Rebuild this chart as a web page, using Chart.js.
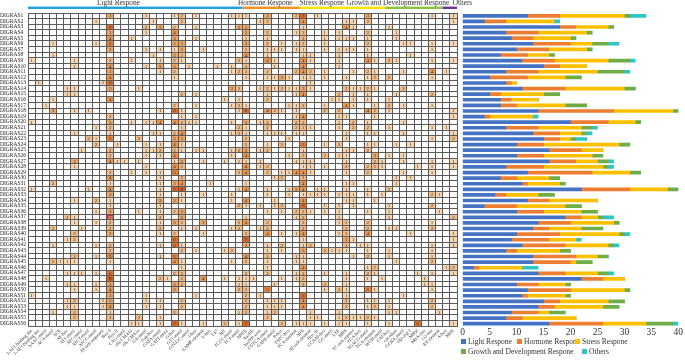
<!DOCTYPE html>
<html>
<head>
<meta charset="utf-8">
<script src="https://cdn.jsdelivr.net/npm/chart.js@4.4.1/dist/chart.umd.min.js"></script>
<style>
    body { margin: 0; background: #fff; }
    #page { position: relative; width: 685px; height: 360px; overflow: hidden; font-family: "Liberation Serif", "Times New Roman", serif; }
    #heat { position: absolute; left: 0; top: 0; }
    #bars { position: absolute; left: 455px; top: 0; }
    .legend-item { position: absolute; font-size: 7.5px; line-height: 8px; color: #333; white-space: nowrap; }
    .legend-item span { display: inline-block; width: 5px; height: 5px; margin-right: 2px; }
</style>
</head>
<body>
<div id="page">
    <canvas id="heat" width="475" height="360"></canvas>
    <canvas id="bars" width="230" height="360"></canvas>
    <div id="legend"></div>
</div>
<script>
/* --------------------------------- Data ---------------------------------*/

var geneNames = [];
for (let i = 1; i <= 56; i++) geneNames.push("DIGRAS" + i);

var groupNames = ["Light Respone", "Hormone Respone", "Stress Respone", "Growth and Development Respone", "Others"];
var groupSizes = [30, 8, 12, 8, 2];

var elementNames = [
    "3-AF1 binding site", "3-AF3 binding site", "AAAC-motif", "ACA-motif", "ACE", "AE-box", "AT1-motif",
    "ATC-motif", "ATCT-motif", "ATCC-motif", "AT-rich sequence", "Box 4", "Box II", "CAG-motif",
    "chs-CMA1a", "chs-CMA2a", "GA-motif", "Gap-box", "GATA-motif", "GATT-motif", "G-box", "GT1-motif",
    "GTGGC-motif", "I-box", "LAMP-element", "L-box", "LS7", "Sp1", "TCCC-motif", "TCT-motif",
    "ABRE", "AuxRE", "AuxRR-core", "CGTCA-motif", "GARE-motif", "P-box", "TATC-box", "TCA-element",
    "ARE", "AT-rich element", "Box III", "CCAAT-box", "GC-motif", "LTR", "MBS", "TC-rich repeats",
    "TGA-box", "TGACG-motif", "TGA-element", "WUN-motif",
    "CAT-box", "circadian", "GCN4_motif", "HD-Zip 1", "MBSI", "MSA-like", "O2-site", "RY-element",
    "A-box", "MRE"
];

// one string per gene: "column:count" for every non-empty cell
var cellRows = [
    "11:3 16:1 20:1 21:2 23:1 28:1 29:1 30:1 33:3 37:2 38:7 40:1 47:3 56:1 59:1",
    "9:1 17:1 21:2 32:1 33:2 38:4 44:1 45:1 47:2 59:1",
    "11:7 16:2 18:3 20:2 23:1 29:3 30:3 38:1 44:4 45:1 50:1",
    "11:3 16:1 20:4 30:3 33:2 37:1 38:2 41:1 43:1 47:2 51:1",
    "11:4 14:1 20:3 23:1 30:1 33:1 38:2 41:1 43:1 44:1 45:1 47:1 51:1",
    "3:1 9:1 11:5 20:3 21:3 30:3 33:2 35:1 37:1 38:2 41:1 47:2 52:1 53:1 56:1 59:1",
    "11:3 16:1 18:1 20:1 21:3 24:1 30:2 33:1 34:1 35:1 37:1 38:1 41:1 43:1 44:1 45:1 47:1 56:1",
    "3:1 17:1 20:3 21:2 30:4 33:1 38:1 39:1 43:1 47:1 53:1",
    "0:1 6:1 11:2 14:1 18:1 20:2 21:1 29:2 30:1 33:4 34:1 38:4 39:1 43:1 47:4 48:1 50:2 51:1 56:1 59:1",
    "6:1 11:4 16:1 18:3 20:3 22:1 26:1 28:1 30:2 34:1 38:4 43:1",
    "11:3 18:1 20:2 28:1 29:2 30:2 33:2 37:2 38:4 39:2 41:1 45:1 47:2 48:1 52:1 56:4 58:1",
    "11:4 20:1 30:1 33:1 34:1 35:3 36:1 38:1 39:1 41:1 44:1 47:1 48:2 50:2 56:1",
    "1:1 10:1 11:6 39:1",
    "5:1 6:1 11:3 15:1 28:3 29:2 32:1 33:2 34:1 35:2 36:1 37:1 38:3 39:1 44:2 45:1 46:1 47:2 48:1 52:2",
    "5:1 6:1 21:2 23:1 33:1 37:1 38:4 43:2 45:1 47:1 51:1 56:2",
    "3:1 11:4 27:1 29:1 33:2 42:1 43:1 45:1 47:1 50:1",
    "2:1 20:2 23:1 28:1 29:2 30:1 36:1 37:1 38:2 41:1 44:4 45:1 48:1 50:2 52:1 56:1",
    "3:3 6:1 8:1 18:1 20:6 21:1 29:1 30:6 33:4 34:2 35:1 37:1 41:2 43:2 47:4 48:2 50:1 59:1",
    "11:2 21:1 23:1 37:1 38:4 43:1 44:1 48:1 59:1",
    "0:1 11:3 14:1 16:1 17:1 18:4 20:4 21:2 22:1 23:1 28:1 30:3 32:1 33:2 37:2 38:2 43:1 45:2 47:1 52:1",
    "9:1 11:2 21:1 29:2 30:1 33:2 37:2 38:2 39:1 43:1 45:2 47:2 50:1 56:1 58:1",
    "6:1 11:1 17:1 18:1 20:2 21:4 28:1 29:2 30:1 33:1 34:1 35:1 37:1 38:1 44:1 47:1 48:1 52:1 59:1",
    "8:2 9:1 11:5 15:2 20:3 21:3 30:2 36:1 44:1 56:1 59:2",
    "9:2 12:1 16:1 18:1 20:4 21:1 30:2 33:1 35:2 38:5 41:1 43:2 47:1 48:1 51:1 53:1",
    "7:1 11:2 16:1 17:1 18:2 20:2 21:1 23:1 24:1 28:1 29:2 30:3 32:1 33:2 38:1 44:1 45:1 47:2",
    "11:2 16:1 18:1 20:4 28:1 30:4 36:1 38:2 41:2 43:1 44:1 48:3 50:1 52:1",
    "6:3 11:4 12:1 13:1 15:1 20:1 21:3 24:1 27:1 29:1 30:1 32:1 37:1 38:1 39:1 44:1 48:2 49:1 52:1 56:1 59:1",
    "6:1 16:1 20:4 21:2 30:4 32:1 33:2 38:1 39:1 41:1 44:2 47:2 48:2 49:1 54:1 56:1 59:1",
    "11:2 14:1 16:1 18:1 20:5 29:2 30:4 33:2 35:1 36:1 37:4 38:4 39:1 44:1 47:2 52:1 56:1",
    "11:4 18:1 21:2 34:1 35:2 38:2 51:1 53:1",
    "3:2 11:1 18:1 20:3 21:4 25:1 30:1 38:4 44:1 45:1 51:1",
    "0:1 8:1 11:4 18:1 20:7 21:8 29:1 30:4 33:1 36:1 37:3 38:4 40:1 41:1 44:1 47:1 50:2",
    "11:3 18:1 21:1 24:1 28:1 33:1 36:1 38:1 39:1 40:1 41:1 43:1 44:1 45:1 47:1 49:1 56:2 57:1",
    "6:1 9:2 11:1 18:3 20:3 21:1 28:1 30:4 34:1 38:4 44:1 45:1 48:1",
    "11:1 18:1 29:2 30:1 32:1 34:1 35:2 38:6 41:1 43:1 45:1 50:1 56:2",
    "9:1 11:3 15:1 18:1 20:2 21:3 33:1 35:1 37:2 38:2 39:1 41:1 43:1 47:1 50:1 57:1",
    "5:2 6:1 11:12 18:2 21:3 30:1 37:1 38:2 43:1 50:1 59:2",
    "6:1 9:1 11:2 18:1 20:3 21:2 24:3 29:2 30:4 33:2 38:2 43:1 44:2 47:2 56:1",
    "3:2 7:1 11:2 18:2 21:1 23:1 28:1 29:2 32:1 33:2 38:2 44:2 47:2 50:1 51:1 56:2",
    "6:2 11:3 18:1 20:2 24:1 30:2 33:4 35:1 37:1 38:4 43:1 44:2 47:4 53:1 59:1",
    "5:1 6:2 20:6 30:7 38:1 44:3 45:1 59:1",
    "3:1 9:1 11:2 18:1 20:6 21:1 30:3 33:1 35:2 38:1 39:2 44:2 46:1 47:1 56:1 59:1",
    "11:2 21:2 23:1 27:1 28:2 33:1 35:1 38:3 41:2 42:1 43:1 44:1 47:1 50:1 56:1",
    "6:2 9:1 11:5 18:1 20:5 30:4 33:2 37:1 38:1 45:1 47:2 50:1 56:1",
    "3:2 4:1 5:1 6:1 11:1 20:4 21:1 28:1 30:2 33:1 37:1 38:1 51:1 56:2",
    "21:1 33:1 38:4 47:1 48:2 58:1 59:2",
    "5:1 6:1 7:1 9:1 11:6 20:2 21:2 30:2 33:2 37:1 38:2 41:1 44:1 47:2 48:1 54:1 56:1 59:1",
    "2:1 11:8 18:2 19:1 21:2 24:4 27:1 29:1 30:1 31:1 35:1 37:1 38:2 44:1 47:1 49:1 55:1",
    "5:1 6:1 9:1 11:3 20:3 21:2 29:1 30:1 34:1 38:2 41:2 44:1 55:1 56:1",
    "6:1 9:1 11:4 20:3 29:2 30:2 33:5 41:1 43:2 44:1 47:5 48:1 56:1",
    "0:1 11:3 16:1 23:1 30:2 32:1 38:6 44:1 52:1",
    "5:1 6:2 10:1 11:3 16:1 18:1 21:2 30:2 33:1 34:1 35:1 38:4 44:2 47:1 48:1 50:1 56:2",
    "5:1 6:1 10:1 11:4 16:1 18:1 21:2 30:2 33:1 34:1 35:1 38:4 44:2 47:1 48:2 50:1 56:2",
    "3:1 6:2 11:1 20:2 29:1 30:2 33:1 34:2 39:1 43:1 50:1 51:1 57:1",
    "6:2 11:2 15:2 18:1 33:2 39:1 40:1 43:1 44:2 45:1 46:1 47:2 48:1",
    "14:1 15:1 18:1 20:7 21:1 24:1 27:2 29:1 30:7 35:2 37:1 38:1 39:1 41:1 43:1 44:1 47:1 50:1 54:6 59:1"
];

var seriesNames = ["Light Respone", "Hormone Respone", "Stress Respone", "Growth and Development Respone", "Others"];
var lightCounts = [12, 4, 18, 8, 9, 13, 10, 7, 11, 15, 8, 5, 8, 11, 5, 7, 7, 14, 4, 20, 8, 13, 15, 10, 16, 10, 16, 8, 12, 7,
    11, 22, 6, 12, 4, 10, 19, 14, 13, 10, 9, 11, 8, 13, 13, 2, 14, 22, 10, 12, 11, 15, 14, 9, 8, 16];
var hormoneCounts = [6, 4, 3, 6, 4, 7, 6, 5, 6, 3, 6, 7, 1, 8, 2, 2, 3, 14, 1, 7, 6, 5, 3, 5, 6, 5, 5, 7, 12, 3,
    1, 9, 2, 4, 6, 5, 3, 6, 3, 8, 7, 8, 2, 8, 7, 1, 5, 4, 4, 8, 1, 3, 3, 5, 3, 10];
var stressCounts = [12, 9, 6, 9, 7, 4, 7, 4, 10, 5, 11, 7, 1, 11, 8, 5, 9, 11, 8, 5, 8, 4, 2, 14, 4, 9, 4, 11, 7, 6,
    6, 7, 6, 9, 9, 7, 3, 8, 6, 11, 5, 8, 8, 4, 1, 8, 6, 4, 5, 10, 7, 9, 9, 2, 10, 8];
var growthCounts = [1, 0, 1, 1, 1, 3, 1, 1, 4, 0, 5, 3, 0, 2, 3, 0, 4, 1, 0, 1, 2, 1, 1, 2, 0, 2, 2, 1, 2, 2,
    1, 2, 3, 0, 3, 3, 1, 1, 4, 1, 0, 1, 2, 2, 3, 0, 2, 0, 1, 1, 1, 3, 3, 3, 0, 5];
var otherCounts = [3, 1, 0, 0, 0, 2, 0, 0, 1, 0, 1, 0, 0, 0, 0, 0, 0, 1, 1, 0, 1, 1, 2, 0, 0, 0, 1, 1, 0, 0,
    0, 0, 0, 0, 0, 0, 2, 0, 0, 1, 1, 1, 0, 0, 0, 3, 1, 0, 0, 0, 0, 0, 0, 0, 0, 1];

/* -------------------------------- Styles --------------------------------*/

var serif = "'Liberation Serif', 'Times New Roman', serif";
var groupColors = ["#1DA1E0", "#F5921E", "#FFE300", "#8CC63E", "#71309B"];
var seriesColors = ["#4472C4", "#ED7D31", "#FFC000", "#70AD47", "#2EC6C6"];
var gridColor = "#5c5c5c";

function heatColor(v) {                                         // цвет клетки по количеству элементов
    var shades = ["#ffffff", "#f7d6b2", "#f2be8b", "#eea86a", "#ea9751", "#e6823a", "#e2722c", "#de6423", "#da571d"];
    if (v >= shades.length) return "#cf2f1f";
    return shades[v];
}

function parseCells() {
    var points = [];
    cellRows.forEach(function (row, r) {
        row.split(" ").forEach(function (pair) {
            var parts = pair.split(":");
            points.push({ x: Number(parts[0]), y: r, v: Number(parts[1]) });
        });
    });
    return points;
}

/* ------------------------------- Heat map -------------------------------*/

var heatCellsPlugin = {
    id: "heatCells",
    afterDatasetsDraw: function (chart) {
        var ctx = chart.ctx;
        var xs = chart.scales.x, ys = chart.scales.y;
        var w = xs.getPixelForValue(1) - xs.getPixelForValue(0);
        var h = ys.getPixelForValue(1) - ys.getPixelForValue(0);

        ctx.save();
        ctx.font = "5px " + serif;
        ctx.textAlign = "center";
        ctx.textBaseline = "middle";
        chart.data.datasets[0].data.forEach(function (p) {
            var cx = xs.getPixelForValue(p.x);
            var cy = ys.getPixelForValue(p.y);
            ctx.fillStyle = heatColor(p.v);
            ctx.fillRect(cx - w / 2, cy - h / 2, w, h);
            ctx.fillStyle = p.v >= 9 ? "#ffffff" : "#3d2a20";
            ctx.fillText(String(p.v), cx, cy + 0.3);
        });
        ctx.restore();
    }
};

var groupHeaderPlugin = {
    id: "groupHeader",
    afterDraw: function (chart) {
        var ctx = chart.ctx;
        var xs = chart.scales.x;
        var textShift = [69, -4.5, 0, -39, 10];                  // сдвиг подписи относительно начала группы
        var start = 0;

        ctx.save();
        ctx.font = "7.3px " + serif;
        ctx.textBaseline = "alphabetic";
        ctx.textAlign = "left";
        groupNames.forEach(function (name, i) {
            var left = xs.getPixelForValue(start - 0.5);
            var right = xs.getPixelForValue(start + groupSizes[i] - 0.5);
            ctx.fillStyle = groupColors[i];
            ctx.fillRect(left, 6.6, right - left, 2.4);
            ctx.fillStyle = "#333";
            ctx.fillText(name, left + textShift[i], 5);
            start += groupSizes[i];
        });
        ctx.restore();
    }
};

function drawHeatMap() {
    new Chart(document.getElementById("heat"), {
        type: "scatter",
        data: {
            datasets: [{ data: parseCells(), pointRadius: 0, pointHoverRadius: 0 }]
        },
        options: {
            responsive: false,
            animation: false,
            events: [],
            layout: { padding: { top: 13, right: 18, left: 0, bottom: 0 } },
            plugins: { legend: { display: false }, tooltip: { enabled: false } },
            scales: {
                x: {
                    type: "category",
                    labels: elementNames,
                    offset: true,
                    grid: { offset: true, color: gridColor, lineWidth: 1, drawTicks: false, z: 1 },
                    border: { color: gridColor, width: 1, z: 1 },
                    ticks: {
                        autoSkip: false, minRotation: 45, maxRotation: 45, padding: 2,
                        color: "#333", font: { family: serif, size: 4.6 }
                    },
                    afterFit: function (scale) { scale.height = 34; }
                },
                y: {
                    type: "category",
                    labels: geneNames,
                    offset: true,
                    grid: { offset: true, color: gridColor, lineWidth: 1, drawTicks: false, z: 1 },
                    border: { color: gridColor, width: 1, z: 1 },
                    ticks: {
                        autoSkip: false, padding: 1, crossAlign: "far",
                        color: "#222", font: { family: serif, size: 5.5 }
                    },
                    afterFit: function (scale) { scale.width = 28; }
                }
            }
        },
        plugins: [heatCellsPlugin, groupHeaderPlugin]
    });
}

/* ------------------------------- Bar chart -------------------------------*/

function drawBars() {
    var counts = [lightCounts, hormoneCounts, stressCounts, growthCounts, otherCounts];
    var datasets = seriesNames.map(function (name, i) {
        return {
            label: name,
            data: counts[i],
            backgroundColor: seriesColors[i],
            borderWidth: 0,
            barThickness: 3
        };
    });

    new Chart(document.getElementById("bars"), {
        type: "bar",
        data: { labels: geneNames, datasets: datasets },
        options: {
            responsive: false,
            animation: false,
            events: [],
            indexAxis: "y",
            layout: { padding: { top: 13, left: 7.7, right: 6.7, bottom: 0 } },
            plugins: { legend: { display: false }, tooltip: { enabled: false } },
            scales: {
                x: {
                    stacked: true, min: 0, max: 40,
                    grid: { display: false, drawTicks: false },
                    border: { display: false },
                    ticks: { stepSize: 5, padding: 0, color: "#333", font: { family: serif, size: 9.5 } },
                    afterFit: function (scale) { scale.height = 33.5; }
                },
                y: { stacked: true, display: false }
            }
        }
    });
}

function printLegend() {
    var spots = [[461, 337.5], [517, 337.5], [575, 337.5], [461, 347.5], [582, 347.5]];
    var legend = document.getElementById("legend");

    seriesNames.forEach(function (name, i) {
        var item = document.createElement("div");
        item.className = "legend-item";
        item.style.left = spots[i][0] + "px";
        item.style.top = spots[i][1] + "px";
        var box = document.createElement("span");
        box.style.background = seriesColors[i];
        item.appendChild(box);
        item.appendChild(document.createTextNode(name));
        legend.appendChild(item);
    });
}

drawHeatMap();
drawBars();
printLegend();
</script>
</body>
</html>
